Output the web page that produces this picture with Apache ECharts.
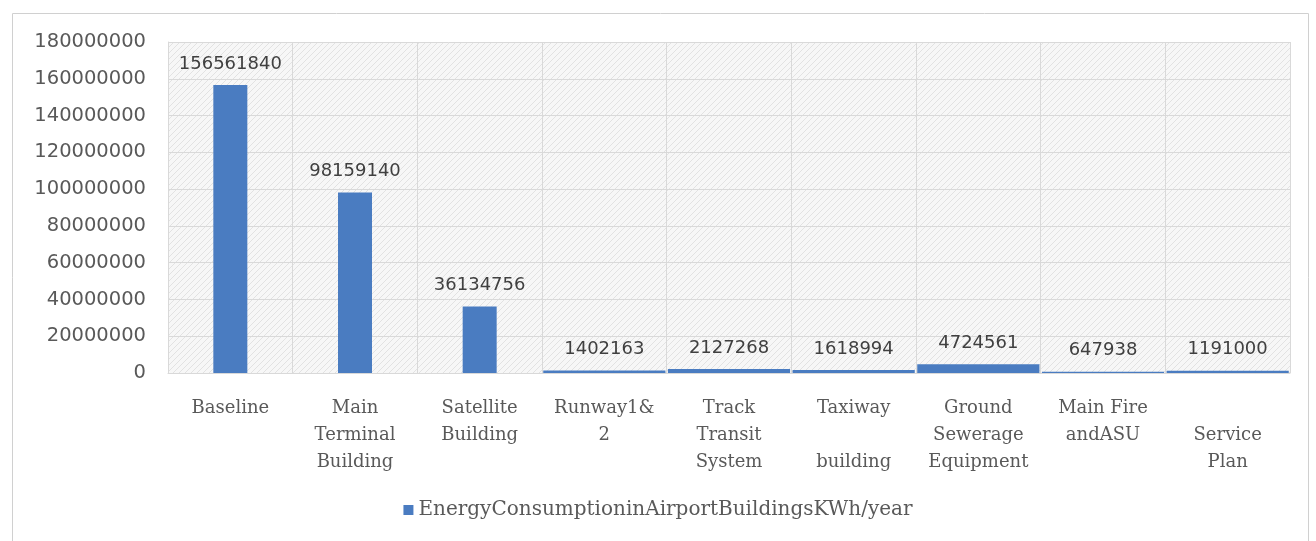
<!DOCTYPE html>
<html>
<head>
<meta charset="utf-8">
<script src="https://cdn.jsdelivr.net/npm/echarts@6/dist/echarts.min.js"></script>
<style>
  html, body { margin: 0; padding: 0; background: #fff; }
  #main { width: 1316px; height: 541px; }
</style>
</head>
<body>
<div id="main"></div>
<script>
// categories as printed under the axis (line breaks follow the picture)
const categories = [
  'Baseline',
  'Main\nTerminal\nBuilding',
  'Satellite\nBuilding',
  'Runway1&\n2',
  'Track\nTransit\nSystem',
  'Taxiway\n\nbuilding',
  'Ground\nSewerage\nEquipment',
  'Main Fire\nandASU',
  '\nService\nPlan'
]
// energy consumption, KWh/year
const energyValues = [156561840, 98159140, 36134756, 1402163, 2127268, 1618994, 4724561, 647938, 1191000]
// first three drawn as narrow columns, the rest as full-width strips
const narrowCount = 3
const yTicks = { min: 0, max: 180000000, interval: 20000000 }
const seriesName = 'EnergyConsumptioninAirportBuildingsKWh/year'

const narrowData = energyValues.map((v, i) => (i < narrowCount ? v : '-'))
const wideData = energyValues.map((v, i) => (i < narrowCount ? '-' : v))

/** hatch pattern for the plot background */
function makeHatch() {
  const c = document.createElement('canvas')
  c.width = 6
  c.height = 6
  const ctx = c.getContext('2d')
  ctx.fillStyle = '#f7f7f7'
  ctx.fillRect(0, 0, 6, 6)
  ctx.strokeStyle = '#e2e2e2'
  ctx.lineWidth = 1
  ctx.beginPath()
  ctx.moveTo(0, 6)
  ctx.lineTo(6, 0)
  ctx.stroke()
  return c
}

const chart = echarts.init(document.getElementById('main'))

const labelStyle = {
  show: true,
  position: 'top',
  distance: 12,
  color: '#404040',
  fontFamily: 'DejaVu Sans',
  fontSize: 18
}

chart.setOption({
  animation: false,
  color: ['#4a7cc1'],
  graphic: [
    {
      type: 'rect',
      shape: { x: 12.5, y: 13.5, width: 1296, height: 540 },
      style: { fill: 'none', stroke: '#d0d0d0', lineWidth: 1 },
      silent: true
    }
  ],
  grid: {
    left: 168,
    right: 26,
    top: 42,
    bottom: 168,
    show: true,
    borderWidth: 0,
    backgroundColor: { image: makeHatch(), repeat: 'repeat' }
  },
  legend: {
    data: [seriesName],
    bottom: 16,
    left: 'center',
    icon: 'rect',
    itemWidth: 10,
    itemHeight: 10,
    itemGap: 6,
    textStyle: {
      color: '#595959',
      fontFamily: 'DejaVu Serif',
      fontSize: 20
    }
  },
  xAxis: [
    {
      type: 'category',
      data: categories,
      axisTick: { show: false },
      axisLine: { lineStyle: { color: '#d9d9d9' } },
      axisLabel: {
        interval: 0,
        margin: 22,
        color: '#595959',
        fontFamily: 'DejaVu Serif',
        fontSize: 18,
        lineHeight: 27
      },
      splitLine: { show: true, lineStyle: { color: '#d9d9d9' } }
    },
    {
      type: 'category',
      data: categories,
      show: false
    }
  ],
  yAxis: {
    type: 'value',
    min: yTicks.min,
    max: yTicks.max,
    interval: yTicks.interval,
    axisLine: { show: true, lineStyle: { color: '#d9d9d9' } },
    axisTick: { show: false },
    axisLabel: {
      margin: 22,
      color: '#595959',
      fontFamily: 'DejaVu Sans',
      fontSize: 19.5,
      formatter: v => String(v)
    },
    splitLine: { lineStyle: { color: '#d9d9d9' } }
  },
  series: [
    {
      name: seriesName,
      type: 'bar',
      xAxisIndex: 0,
      barWidth: 34,
      data: narrowData,
      label: labelStyle
    },
    {
      name: seriesName,
      type: 'bar',
      xAxisIndex: 1,
      barWidth: '98%',
      data: wideData,
      label: labelStyle
    }
  ]
})
</script>
</body>
</html>
